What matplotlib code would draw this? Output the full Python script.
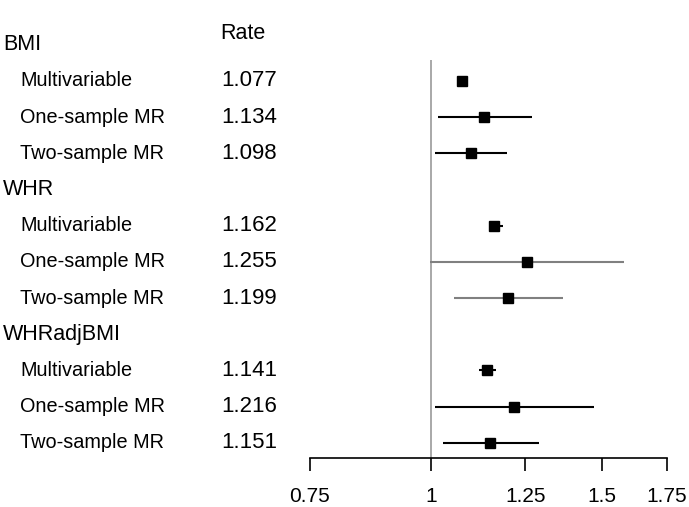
import numpy as np
import matplotlib.pyplot as plt
from matplotlib.transforms import blended_transform_factory

plt.rcParams['font.family'] = ['Liberation Sans', 'DejaVu Sans']

groups = ['BMI', 'WHR', 'WHRadjBMI']
methods = ['Multivariable', 'One-sample MR', 'Two-sample MR']
rates = [[1.077, 1.134, 1.098],
         [1.162, 1.255, 1.199],
         [1.141, 1.216, 1.151]]
lower = [[1.072, 1.017, 1.010],
         [1.148, 0.998, 1.056],
         [1.121, 1.010, 1.029]]
upper = [[1.083, 1.271, 1.198],
         [1.186, 1.580, 1.368],
         [1.167, 1.470, 1.290]]
line_colors = [['black', 'black', 'black'],
               ['black', 'gray', 'gray'],
               ['black', 'black', 'black']]
xticks = [0.75, 1, 1.25, 1.5, 1.75]
xticklabels = ['0.75', '1', '1.25', '1.5', '1.75']

W, H = 689, 507
fig = plt.figure(figsize=(W / 100, H / 100), dpi=100)
# plot area: x 310..667 px, y 60..458 px
ax = fig.add_axes([310 / W, 1 - 458 / H, (667 - 310) / W, (458 - 60) / H])
ax.set_xscale('log')
ax.set_xlim(0.75, 1.75)
ax.set_ylim(11.42, 0.42)

row = 0
rows = []
for g in range(len(groups)):
    rows.append(('group', g, None, row))
    row += 1
    for m in range(len(methods)):
        rows.append(('method', g, m, row))
        row += 1

ax.axvline(1, color='#999999', lw=1.2, zorder=1)

tr = blended_transform_factory(fig.transFigure, ax.transData)
ax.text(220 / W, -0.3, 'Rate', transform=tr, fontsize=15.5, va='center', ha='left')
for kind, g, m, r in rows:
    if kind == 'group':
        ax.text(3 / W, r, groups[g], transform=tr, fontsize=15.5, va='center', ha='left')
    else:
        ax.text(20 / W, r, methods[m], transform=tr, fontsize=14.3, va='center', ha='left')
        ax.text(221 / W, r, f'{rates[g][m]:.3f}', transform=tr, fontsize=16,
                va='center', ha='left')
        c = line_colors[g][m]
        ax.plot([lower[g][m], upper[g][m]], [r, r], color=c, lw=1.5,
                solid_capstyle='butt', zorder=2)
        ax.plot(rates[g][m], r, marker='s', color='black', markersize=7, zorder=3)

for s in ['top', 'right', 'left']:
    ax.spines[s].set_visible(False)
ax.spines['bottom'].set_bounds(0.75, 1.75)
ax.spines['bottom'].set_linewidth(1.2)
ax.set_yticks([])
ax.set_xticks(xticks)
ax.set_xticklabels(xticklabels, fontsize=15)
ax.minorticks_off()
ax.tick_params(axis='x', direction='out', length=9, width=1.2, pad=12)

fig.savefig('out.png', dpi=100)
